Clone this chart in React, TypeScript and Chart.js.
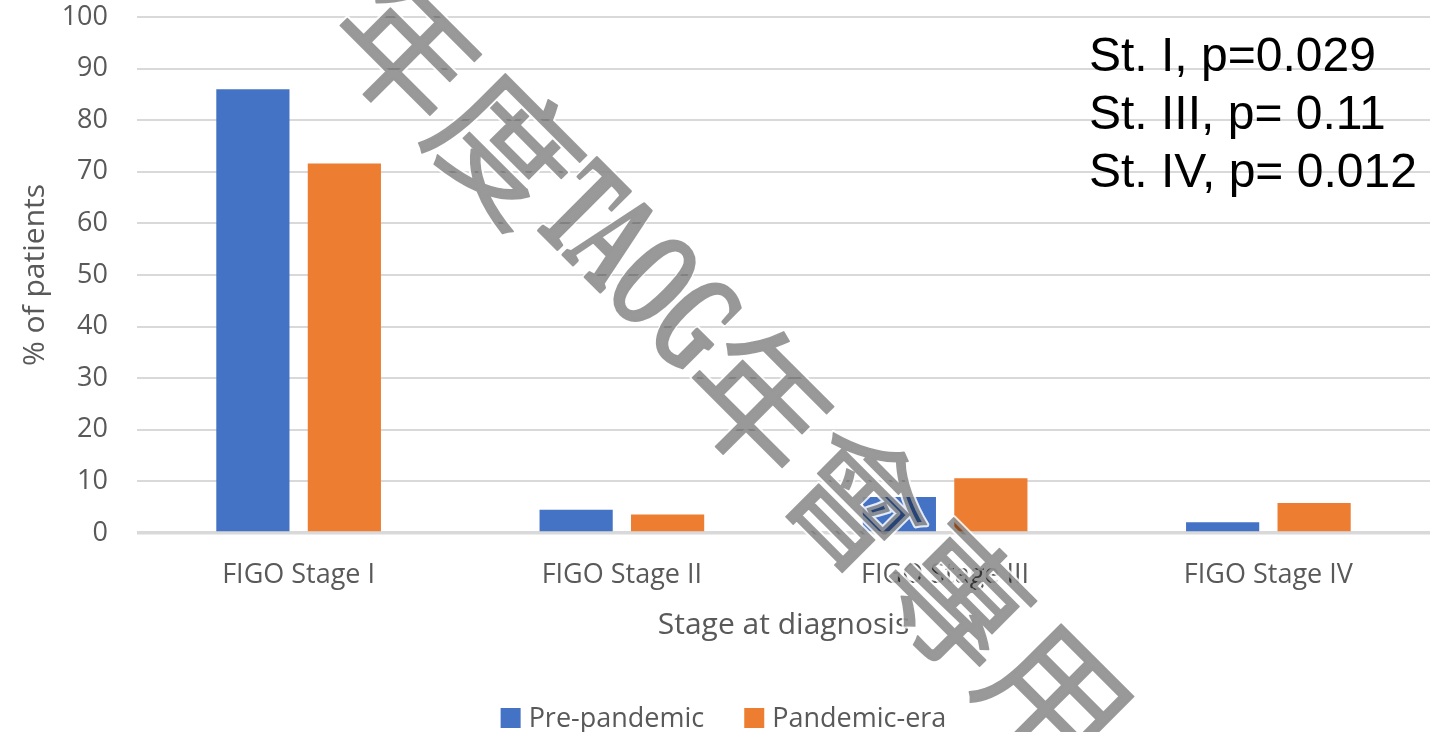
import { useEffect, useRef } from "react";
import { Chart, registerables } from "chart.js";

Chart.register(...registerables);

// Stage distribution at diagnosis, % of patients
const stages = ["FIGO Stage I", "FIGO Stage II", "FIGO Stage III", "FIGO Stage IV"];
const seriesNames = ["Pre-pandemic", "Pandemic-era"];
const prePandemic = [86.0, 4.5, 7.0, 2.1];
const pandemicEra = [71.6, 3.6, 10.6, 5.8];
const seriesColors = ["#4472C4", "#ED7D31"];

const yMin = 0;
const yMax = 100;
const yStep = 10;

const yTitle = "% of patients";
const xTitle = "Stage at diagnosis";

const pValueNotes = ["St. I, p=0.029", "St. III, p= 0.11", "St. IV, p= 0.012"];

const watermarkParts = ["年度", "TAOG", "年會專用"];

const TEXT_FONT = "'Open Sans', 'Noto Sans', sans-serif";
const TEXT_COLOR = "#595959";

// Legend drawn under the axis title
const legendPlugin = {
  id: "bottomLegend",
  afterDraw(chart: any) {
    const { ctx } = chart;
    const box = 20;
    const gap = 8;
    const between = 40;
    const y = 718;
    ctx.save();
    ctx.font = `27px ${TEXT_FONT}`;
    const widths = chart.data.datasets.map((d: any) => ctx.measureText(d.label).width);
    const total =
      widths.reduce((a: number, w: number) => a + box + gap + w, 0) +
      between * (widths.length - 1);
    let x = 723.5 - total / 2;
    chart.data.datasets.forEach((d: any, i: number) => {
      ctx.fillStyle = d.backgroundColor;
      ctx.fillRect(x, y - box / 2, box, box);
      x += box + gap;
      ctx.fillStyle = TEXT_COLOR;
      ctx.textAlign = "left";
      ctx.textBaseline = "middle";
      ctx.fillText(d.label, x, y + 1);
      x += widths[i] + between;
    });
    ctx.restore();
  },
};

// p-value notes in the upper right corner
const notesPlugin = {
  id: "pValueNotes",
  afterDraw(chart: any) {
    const { ctx } = chart;
    ctx.save();
    ctx.font = "48px 'Liberation Sans', Arial, sans-serif";
    ctx.fillStyle = "#000000";
    ctx.textAlign = "left";
    ctx.textBaseline = "alphabetic";
    pValueNotes.forEach((line, i) => {
      ctx.fillText(line, 1089, 71 + i * 58);
    });
    ctx.restore();
  },
};

// Diagonal translucent stamp across the plot
const stampPlugin = {
  id: "stamp",
  afterDraw(chart: any) {
    const { ctx, width, height } = chart;
    const cjk = "140px 'Noto Sans CJK TC', sans-serif";
    const latin = "bold 140px 'Liberation Serif', serif";
    const parts = [
      { text: watermarkParts[0], u: 252, font: cjk, width: 0, thick: 1.5 },
      { text: watermarkParts[1], u: 532, font: latin, width: 218, thick: 4 },
      { text: watermarkParts[2], u: 750, font: cjk, width: 0, thick: 1.5 },
    ];
    const c = Math.SQRT1_2;

    const paint = (target: CanvasRenderingContext2D, mode: "halo" | "glyph") => {
      parts.forEach((p) => {
        target.save();
        target.font = p.font;
        const natural = target.measureText(p.text).width;
        const sx = p.width ? p.width / natural : 1;
        target.translate(180 + c * p.u, -180 + c * p.u);
        target.rotate(Math.PI / 4);
        target.scale(sx, 1);
        target.textAlign = "left";
        target.textBaseline = "middle";
        target.lineJoin = "round";
        if (mode === "halo") {
          target.strokeStyle = "#ffffff";
          target.lineWidth = p.thick + 4;
          target.strokeText(p.text, 0, 0);
        } else {
          target.fillStyle = "#000000";
          target.strokeStyle = "#000000";
          target.lineWidth = p.thick;
          target.strokeText(p.text, 0, 0);
          target.fillText(p.text, 0, 0);
        }
        target.restore();
      });
    };

    const layer = (mode: "halo" | "glyph") => {
      const off = document.createElement("canvas");
      off.width = width;
      off.height = height;
      const octx = off.getContext("2d") as CanvasRenderingContext2D;
      paint(octx, mode);
      return off;
    };

    ctx.save();
    ctx.globalAlpha = 0.85;
    ctx.drawImage(layer("halo"), 0, 0);
    ctx.globalAlpha = 0.4;
    ctx.drawImage(layer("glyph"), 0, 0);
    ctx.restore();
  },
};

export default function App() {
  const canvasRef = useRef<HTMLCanvasElement | null>(null);

  useEffect(() => {
    document.body.style.margin = "0";
    const canvas = canvasRef.current;
    if (!canvas) return;
    const chart = new Chart(canvas, {
      type: "bar",
      data: {
        labels: stages,
        datasets: [
          {
            label: seriesNames[0],
            data: prePandemic,
            backgroundColor: seriesColors[0],
            borderWidth: 0,
          },
          {
            label: seriesNames[1],
            data: pandemicEra,
            backgroundColor: seriesColors[1],
            borderWidth: 0,
          },
        ],
      },
      options: {
        responsive: false,
        animation: false,
        devicePixelRatio: 1,
        layout: { padding: { top: 17, left: 0, right: 0, bottom: 0 } },
        datasets: {
          bar: { categoryPercentage: 0.566, barPercentage: 0.8 },
        },
        plugins: {
          legend: { display: false },
          tooltip: { enabled: false },
          title: { display: false },
        },
        scales: {
          x: {
            grid: { display: false, drawTicks: false },
            border: { display: false },
            ticks: {
              padding: 26,
              color: TEXT_COLOR,
              font: { family: TEXT_FONT, size: 27 },
              maxRotation: 0,
            },
            title: {
              display: true,
              text: xTitle,
              color: TEXT_COLOR,
              font: { family: TEXT_FONT, size: 30 },
              padding: { top: 0, bottom: 89 },
            },
            afterFit(scale: any) {
              scale.height = 199;
              scale.paddingLeft = 0;
              scale.paddingRight = 0;
            },
          },
          y: {
            min: yMin,
            max: yMax,
            grid: {
              color: "#d9d9d9",
              lineWidth: (ctx: any) => (ctx.tick && ctx.tick.value === 0 ? 3.5 : 2),
              drawTicks: false,
            },
            border: { display: false },
            ticks: {
              stepSize: yStep,
              padding: 29,
              color: TEXT_COLOR,
              font: { family: TEXT_FONT, size: 27 },
            },
            title: {
              display: true,
              text: yTitle,
              color: TEXT_COLOR,
              font: { family: TEXT_FONT, size: 30 },
              padding: { top: 17, bottom: 0 },
            },
            afterFit(scale: any) {
              scale.width = 137;
              scale.paddingTop = 0;
              scale.paddingBottom = 0;
            },
          },
        },
      },
      plugins: [legendPlugin, notesPlugin, stampPlugin],
    });
    return () => chart.destroy();
  }, []);

  return (
    <div style={{ width: 1430, height: 732, overflow: "hidden", background: "#ffffff" }}>
      <canvas ref={canvasRef} width={1430} height={732} style={{ display: "block" }} />
    </div>
  );
}
